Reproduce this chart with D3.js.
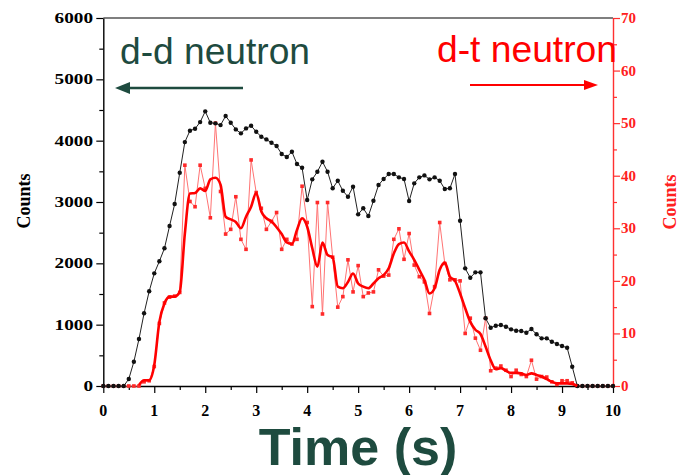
<!DOCTYPE html>
<html>
<head>
<meta charset="utf-8">
<script src="https://cdn.jsdelivr.net/npm/d3@7"></script>
<style>
  html, body { margin: 0; padding: 0; background: #fff; }
  svg { display: block; }
</style>
</head>
<body>
<svg id="chart" width="681" height="475"></svg>
<script>
// ---------- DATA ----------
const timeGrid = [0.0,0.1,0.2,0.3,0.4,0.5,0.6,0.7,0.8,0.9,1.0,1.1,1.2,1.3,1.4,1.5,1.6,1.7,1.8,1.9,
  2.0,2.1,2.2,2.3,2.4,2.5,2.6,2.7,2.8,2.9,3.0,3.1,3.2,3.3,3.4,3.5,3.6,3.7,3.8,3.9,
  4.0,4.1,4.2,4.3,4.4,4.5,4.6,4.7,4.8,4.9,5.0,5.1,5.2,5.3,5.4,5.5,5.6,5.7,5.8,5.9,
  6.0,6.1,6.2,6.3,6.4,6.5,6.6,6.7,6.8,6.9,7.0,7.1,7.2,7.3,7.4,7.5,7.6,7.7,7.8,7.9,
  8.0,8.1,8.2,8.3,8.4,8.5,8.6,8.7,8.8,8.9,9.0,9.1,9.2,9.3,9.4,9.5,9.6,9.7,9.8,9.9,10.0];

// d-d neutron counts (left axis)
const ddCounts = [0,0,0,0,0,114,396,766,1185,1544,1837,2033,2245,2608,2967,3477,3977,4162,4194,4303,
  4478,4292,4282,4254,4401,4292,4184,4119,4200,4243,4145,4064,4021,3966,3912,3782,3733,3819,3619,3558,
  3032,3369,3493,3656,3493,3223,3346,3183,3086,3249,2799,2897,2771,3020,3277,3374,3456,3456,3402,3374,
  3016,3304,3402,3434,3369,3402,3346,3211,3223,3456,2694,1918,1765,1853,1853,1104,950,983,994,967,
  924,901,897,869,929,843,777,777,722,685,652,624,315,0,0,0,0,0,0,0,0];

// d-t neutron counts, raw (right axis)
const dtRaw = [0,0,0,0,0,0,0,0,0.8,1.0,3.7,11.9,15.8,16.9,17.1,17.8,42.0,35.1,34.1,42.0,
  37.6,32.0,50.0,37.0,28.9,29.8,36.0,27.9,26.0,43.0,36.8,33.8,29.8,31.3,33.0,26.0,27.9,27.0,27.9,38.0,
  31.1,15.1,34.9,13.7,34.9,24.5,15.0,17.0,24.0,17.9,22.9,17.0,17.7,17.9,22.1,20.9,21.1,27.9,29.9,24.1,
  29.0,23.0,20.8,19.8,13.8,18.9,31.1,23.3,20.2,20.2,20.0,10.0,12.9,9.1,6.8,12.9,2.9,3.4,3.8,3.0,
  1.8,3.0,2.2,1.8,4.9,1.3,1.8,1.7,0.8,0.3,1.0,1.0,0.6,0,0,0,0,0,0,0,0];

// d-t neutron counts, smoothed (right axis)
const dtSmooth = [null,null,null,null,null,null,null,0.2,1.1,1.1,4.0,12.2,15.7,17.0,17.0,17.9,29.0,36.6,36.7,37.6,
  37.1,39.3,39.6,38.3,32.2,31.7,31.2,30.0,32.2,34.1,36.7,33.2,31.9,31.3,30.2,28.9,27.3,27.0,29.7,31.9,
  30.3,26.2,22.7,27.3,24.9,24.5,18.9,18.6,19.8,21.4,19.5,18.9,18.6,19.5,20.5,21.1,22.4,25.2,27.0,27.3,
  25.6,24.0,22.1,20.2,17.6,18.6,22.1,23.5,20.8,20.0,17.6,14.8,12.2,10.7,9.9,7.5,4.9,3.2,3.4,2.9,
  2.5,2.5,2.4,2.1,2.4,2.1,1.8,1.3,0.8,0.5,0.5,0.5,0.4,0,null,null,null,null,null,null,null];

const xTicks = [0,1,2,3,4,5,6,7,8,9,10];
const leftTicks = [0,1000,2000,3000,4000,5000,6000];
const rightTicks = [0,10,20,30,40,50,60,70];

// ---------- LAYOUT ----------
const svg = d3.select("#chart");
const X0 = 103.3, X1 = 613, Y0 = 386, Y1 = 18;
const green = "#1e4b3f";

const x = d3.scaleLinear().domain([0, 10]).range([X0, X1]);
const yL = d3.scaleLinear().domain([0, 6000]).range([Y0, Y1]);
const yR = d3.scaleLinear().domain([0, 70]).range([Y0, Y1]);

svg.append("rect").attr("width", 681).attr("height", 475).attr("fill", "#fff");

// top frame line
svg.append("line").attr("x1", X0).attr("x2", X1).attr("y1", Y1).attr("y2", Y1)
  .attr("stroke", "#000").attr("stroke-width", 1.2);

const serif = "'Liberation Serif','Times New Roman',serif";

// X axis
const xAxis = svg.append("g").attr("transform", `translate(0,${Y0})`)
  .call(d3.axisBottom(x).tickValues(d3.range(0, 10.01, 0.5)).tickSize(0).tickFormat(""));
xAxis.select(".domain").attr("stroke", "#000").attr("stroke-width", 1.4);
xAxis.selectAll(".tick line").attr("stroke", "#000").attr("stroke-width", 1.2)
  .attr("y2", d => Number.isInteger(d) ? 7 : 4);
svg.append("g").selectAll("text").data(xTicks).join("text")
  .attr("x", d => x(d)).attr("y", 416).attr("text-anchor", "middle")
  .attr("font-family", serif).attr("font-weight", "bold").attr("font-size", 16)
  .attr("fill", "#000").text(d => d);

// Left axis
const lAxis = svg.append("g").attr("transform", `translate(${X0},0)`)
  .call(d3.axisLeft(yL).tickValues(d3.range(0, 6001, 500)).tickSize(0).tickFormat(""));
lAxis.select(".domain").attr("stroke", "#000").attr("stroke-width", 1.4);
lAxis.selectAll(".tick line").attr("stroke", "#000").attr("stroke-width", 1.2)
  .attr("x2", d => d % 1000 === 0 ? -7 : -4);
svg.append("g").selectAll("text").data(leftTicks).join("text")
  .attr("x", 93).attr("y", d => yL(d) + 5).attr("text-anchor", "end")
  .attr("font-family", serif).attr("font-weight", "bold").attr("font-size", 15)
  .attr("textLength", d => String(d).length * 9.6).attr("lengthAdjust", "spacingAndGlyphs")
  .attr("fill", "#000").text(d => d);

// Right axis
const rAxis = svg.append("g").attr("transform", `translate(${X1},0)`)
  .call(d3.axisRight(yR).tickValues(d3.range(0, 70.01, 5)).tickSize(0).tickFormat(""));
rAxis.select(".domain").attr("stroke", "#ff3030").attr("stroke-width", 1.4);
rAxis.selectAll(".tick line").attr("stroke", "#ff3030").attr("stroke-width", 1.2)
  .attr("x2", d => d % 10 === 0 ? 7 : 4);
svg.append("g").selectAll("text").data(rightTicks).join("text")
  .attr("x", 621).attr("y", d => yR(d) + 5).attr("text-anchor", "start")
  .attr("font-family", serif).attr("font-weight", "bold").attr("font-size", 15)
  .attr("fill", "#ff2020").text(d => d);

// Axis titles
svg.append("text").attr("transform", "translate(30,201) rotate(-90)")
  .attr("text-anchor", "middle").attr("font-family", serif).attr("font-weight", "bold")
  .attr("font-size", 18).attr("fill", "#000").text("Counts");
svg.append("text").attr("transform", "translate(676,202) rotate(-90)")
  .attr("text-anchor", "middle").attr("font-family", serif).attr("font-weight", "bold")
  .attr("font-size", 18).attr("fill", "#ff2020").text("Counts");
svg.append("text").attr("x", 358).attr("y", 465).attr("text-anchor", "middle")
  .attr("font-family", "'Liberation Sans',Arial,sans-serif").attr("font-weight", "bold")
  .attr("font-size", 52).attr("fill", green).text("Time (s)");

// ---------- SERIES ----------
const dd = timeGrid.map((t, i) => ({ t, v: ddCounts[i] }));
const raw = timeGrid.map((t, i) => ({ t, v: dtRaw[i] }));
const sm = timeGrid.map((t, i) => ({ t, v: dtSmooth[i] }));

// raw d-t (thin light red)
svg.append("path").datum(raw)
  .attr("d", d3.line().x(d => x(d.t)).y(d => yR(d.v)))
  .attr("fill", "none").attr("stroke", "#ff7373").attr("stroke-width", 1);
svg.append("g").selectAll("rect").data(raw).join("rect")
  .attr("x", d => x(d.t) - 1.8).attr("y", d => yR(d.v) - 1.8)
  .attr("width", 3.6).attr("height", 3.6).attr("fill", "#ff2a2a");

// d-d (black)
svg.append("path").datum(dd)
  .attr("d", d3.line().x(d => x(d.t)).y(d => yL(d.v)))
  .attr("fill", "none").attr("stroke", "#222").attr("stroke-width", 1);
svg.append("g").selectAll("circle").data(dd).join("circle")
  .attr("cx", d => x(d.t)).attr("cy", d => yL(d.v)).attr("r", 2.2).attr("fill", "#111");

// smoothed d-t (thick red)
svg.append("path").datum(sm)
  .attr("d", d3.line().defined(d => d.v !== null).x(d => x(d.t)).y(d => yR(d.v)).curve(d3.curveMonotoneX))
  .attr("fill", "none").attr("stroke", "#ff0000").attr("stroke-width", 2.6)
  .attr("stroke-linejoin", "round");

// ---------- ANNOTATIONS ----------
svg.append("text").attr("x", 120).attr("y", 64)
  .attr("font-family", "'Liberation Sans',Arial,sans-serif").attr("font-size", 36)
  .attr("textLength", 190).attr("lengthAdjust", "spacingAndGlyphs")
  .attr("fill", green).text("d-d neutron");
svg.append("line").attr("x1", 243).attr("x2", 128).attr("y1", 88).attr("y2", 88)
  .attr("stroke", green).attr("stroke-width", 2.5);
svg.append("path").attr("d", "M115,88 L130,82 L130,94 Z").attr("fill", green);

svg.append("text").attr("x", 437).attr("y", 62)
  .attr("font-family", "'Liberation Sans',Arial,sans-serif").attr("font-size", 36)
  .attr("textLength", 180).attr("lengthAdjust", "spacingAndGlyphs")
  .attr("fill", "#ff0000").text("d-t neutron");
svg.append("line").attr("x1", 470).attr("x2", 586).attr("y1", 85).attr("y2", 85)
  .attr("stroke", "#ff0000").attr("stroke-width", 2.2);
svg.append("path").attr("d", "M598,85 L584,80 L584,90 Z").attr("fill", "#ff0000");
</script>
</body>
</html>
